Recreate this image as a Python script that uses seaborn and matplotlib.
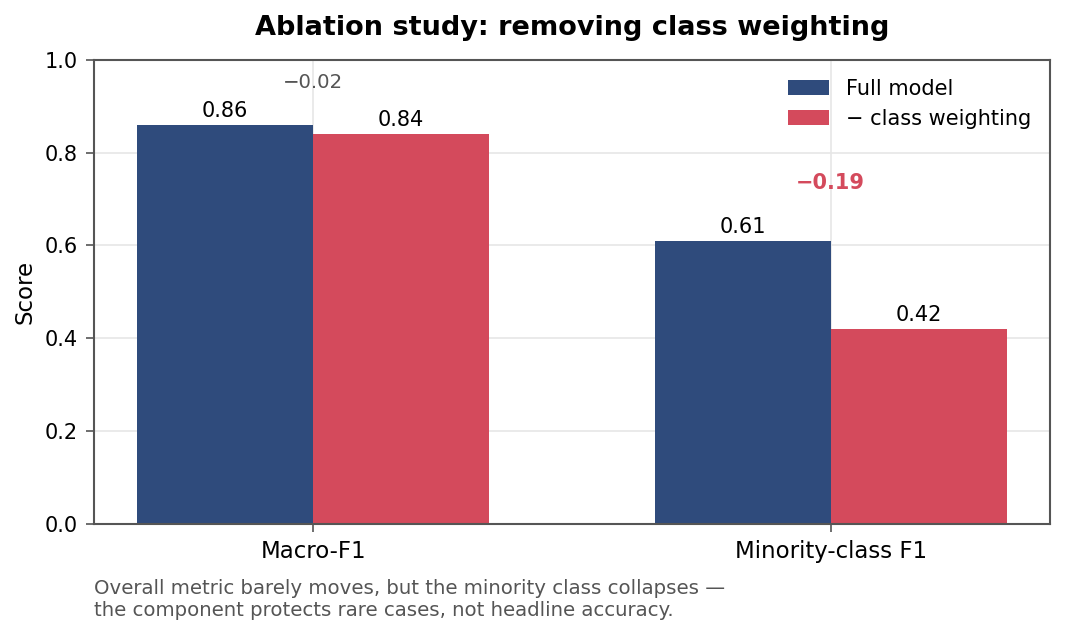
import numpy as np
import pandas as pd
import seaborn as sns
import matplotlib.pyplot as plt

# values
metrics = ["Macro-F1", "Minority-class F1"]
full_model = [0.86, 0.61]
no_weighting = [0.84, 0.42]
series_names = ["Full model", "\u2212 class weighting"]
colors = ["#2F4B7C", "#D44A5C"]
yticks = [0.0, 0.2, 0.4, 0.6, 0.8, 1.0]

df = pd.DataFrame({
    "metric": metrics * 2,
    "score": full_model + no_weighting,
    "variant": [series_names[0]] * 2 + [series_names[1]] * 2,
})

sns.set_style("white")
plt.rcParams['font.family'] = ['DejaVu Sans']
plt.rcParams['text.color'] = 'black'
plt.rcParams['axes.labelcolor'] = 'black'
plt.rcParams['xtick.color'] = 'black'
plt.rcParams['ytick.color'] = 'black'

fig, ax = plt.subplots(figsize=(7.1, 4.24), dpi=150)
sns.barplot(data=df, x="metric", y="score", hue="variant", palette=colors,
            width=0.68, ax=ax, saturation=1, errorbar=None, linewidth=0)

#value labels on top of each bar
for cont in ax.containers:
    ax.bar_label(cont, fmt="%.2f", padding=2, fontsize=10, color="black")

#delta annotations
deltas = [b - a for a, b in zip(full_model, no_weighting)]
offsets = [0.09, 0.125]
for i, d in enumerate(deltas):
    big = abs(d) > 0.1
    ax.text(i, max(full_model[i], no_weighting[i]) + offsets[i],
            "\u2212%.2f" % abs(d), ha="center", va="center",
            fontsize=10 if big else 9.5,
            fontweight="bold" if big else "normal",
            color=colors[1] if big else "#555555")

#x limits like matplotlib default margins (5% of bar span)
lefts = [p.get_x() for p in ax.patches if p.get_width() > 0]
rights = [p.get_x() + p.get_width() for p in ax.patches if p.get_width() > 0]
lo, hi = min(lefts), max(rights)
pad = 0.05 * (hi - lo)
ax.set_xlim(lo - pad, hi + pad)

ax.set_ylim(0, 1.0)
ax.set_yticks(yticks)
ax.set_ylabel("Score", fontsize=11)
ax.set_xlabel("")
ax.set_title("Ablation study: removing class weighting", fontsize=13,
             fontweight="bold", pad=12)
ax.grid(True, color="#e6e6e6", linewidth=0.8)
ax.set_axisbelow(True)
for s in ax.spines.values():
    s.set_color("#555555")
    s.set_linewidth(1)
ax.tick_params(axis="y", labelsize=10, length=4, color="#555555", left=True)
ax.tick_params(axis="x", labelsize=11, length=4, color="#555555", bottom=True)

leg = ax.legend(loc="upper right", frameon=False, fontsize=10)

fig.subplots_adjust(left=0.088, right=0.986, top=0.906, bottom=0.176)
fig.text(0.088, 0.025,
         "Overall metric barely moves, but the minority class collapses \u2014\n"
         "the component protects rare cases, not headline accuracy.",
         fontsize=9.5, color="#555555", ha="left", va="bottom")

plt.savefig("out.png", dpi=150)
